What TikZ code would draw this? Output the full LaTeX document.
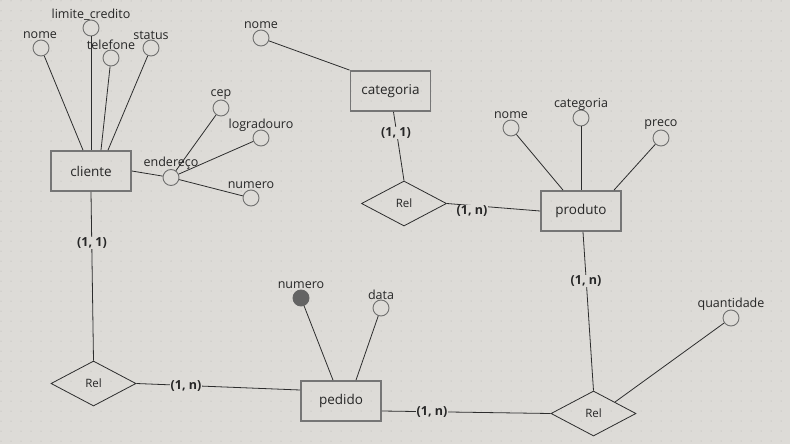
\documentclass[tikz,border=0pt]{standalone}
\usepackage{fontspec}
\setmainfont{Open Sans}
\usetikzlibrary{shapes.geometric,calc}
\definecolor{bg}{RGB}{221,219,215}
\definecolor{dotc}{RGB}{178,176,173}
\definecolor{linec}{RGB}{45,45,45}
\definecolor{boxc}{RGB}{118,118,118}
\definecolor{circc}{RGB}{112,112,112}
\definecolor{keyc}{RGB}{100,100,100}
\begin{document}
\begin{tikzpicture}[x=1pt,y=-1pt,
  entity/.style={draw=boxc, line width=1.8pt, minimum width=80pt, minimum height=40pt, inner sep=0pt, text=black!85, font=\fontsize{13.5}{15}\selectfont},
  rel/.style={diamond, draw=linec, line width=0.8pt, minimum width=85pt, minimum height=45pt, inner sep=0pt, aspect=1.9, text=black!85, font=\fontsize{11.5}{13}\selectfont},
  attr/.style={circle, draw=circc, line width=0.9pt, minimum size=16pt, inner sep=0pt, fill=bg},
  keyattr/.style={attr, fill=keyc, draw=keyc},
  lbl/.style={font=\fontsize{12.5}{14}\selectfont, text=black!85, inner sep=0pt},
  card/.style={font=\fontsize{12.5}{14}\bfseries\selectfont, text=black!85, fill=bg, inner sep=1pt},
  conn/.style={draw=linec, line width=0.8pt}]
% background
\fill[bg] (0,0) rectangle (790,444);
\useasboundingbox (0,0) rectangle (790,444);
\foreach \i in {0,...,78}{\foreach \j in {0,...,44}{\fill[dotc] (10*\i+1,10*\j+1) circle (0.5pt);}}

% entities
\node[entity] (cliente) at (91,171) {cliente};
\node[entity] (categoria) at (390.5,91) {categoria};
\node[entity] (produto) at (581,211) {produto};
\node[entity] (pedido) at (341,401) {pedido};

% relationships
\node[rel] (rel1) at (93.5,383.5) {Rel};
\node[rel] (rel2) at (404,203.5) {Rel};
\node[rel] (rel3) at (593.5,413.5) {Rel};

% attributes
\node[attr] (cnome) at (41,48) {};
\node[lbl] at (40,35) {nome};
\node[attr] (climite) at (91,28) {};
\node[lbl] at (91,15) {limite\_credito};
\node[attr] (ctel) at (111,58) {};
\node[lbl] at (111,45) {telefone};
\node[attr] (cstatus) at (151,48) {};
\node[lbl] at (151,35) {status};
\node[attr] (cend) at (171,177.5) {};
\node[attr] (ccep) at (221,108) {};
\node[lbl] at (221,95) {cep};
\node[attr] (clog) at (261,138) {};
\node[lbl] at (261,125) {logradouro};
\node[attr] (cnum) at (251,198) {};
\node[lbl] at (251,185) {numero};

\node[attr] (catnome) at (261,38) {};
\node[lbl] at (261,25) {nome};

\node[attr] (pnome) at (511,128) {};
\node[lbl] at (511,115) {nome};
\node[attr] (pcat) at (581,118) {};
\node[lbl] at (581,104) {categoria};
\node[attr] (ppreco) at (661,138) {};
\node[lbl] at (661,125) {preco};

\node[keyattr] (pednum) at (301,298) {};
\node[lbl] at (301,285) {numero};
\node[attr] (peddata) at (381,308) {};
\node[lbl] at (381,295) {data};

\node[attr] (quant) at (731,318) {};
\node[lbl] at (731,304) {quantidade};

% attribute connectors
\draw[conn] (cnome) -- ([xshift=-8pt]cliente.north);
\draw[conn] (climite) -- (cliente.north);
\draw[conn] (ctel) -- ([xshift=10pt]cliente.north);
\draw[conn] (cstatus) -- ([xshift=17pt]cliente.north);
\draw[conn] (cliente.east) -- (cend);
\draw[conn] (cend) -- (ccep);
\draw[conn] (cend) -- (clog);
\draw[conn] (cend) -- (cnum);
\node[lbl] at (171,163) {endereço};

\draw[conn] (catnome) -- (categoria.north west);
\draw[conn] (pnome) -- ([xshift=-18pt]produto.north);
\draw[conn] (pcat) -- (produto.north);
\draw[conn] (ppreco) -- ([xshift=33pt]produto.north);
\draw[conn] (pednum) -- ([xshift=-8pt]pedido.north);
\draw[conn] (peddata) -- ([xshift=15pt]pedido.north);
\draw[conn] (quant) -- (rel3.north east);

% relationship connectors
\draw[conn] (cliente.south) -- (rel1.north);
\draw[conn] (rel1.east) -- ([yshift=11pt]pedido.west);
\draw[conn] ([yshift=-10pt]pedido.east) -- (rel3.west);
\draw[conn] ([xshift=2pt]produto.south) -- (rel3.north);
\draw[conn] ([xshift=3pt]categoria.south) -- (rel2.north);
\draw[conn] (rel2.east) -- (produto.west);

% cardinalities
\node[card] (k1) at (92,243) {(1, 1)};
\node[card] (k2) at (186,386) {(1, n)};
\node[card] (k3) at (432,412) {(1, n)};
\node[card] (k4) at (586,281) {(1, n)};
\node[card] (k5) at (396,133) {(1, 1)};
\node[card] (k6) at (472,211) {(1, n)};
\end{tikzpicture}
\end{document}
